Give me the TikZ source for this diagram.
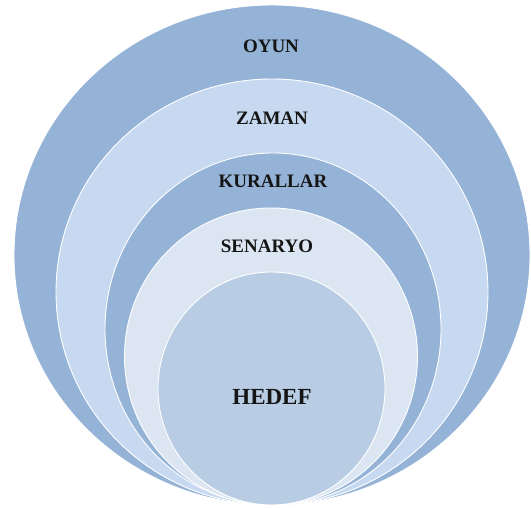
\documentclass[tikz,border=0pt]{standalone}
\usepackage{fontspec}
\setmainfont{Liberation Serif}
\usetikzlibrary{shapes.geometric}
\definecolor{darkband}{HTML}{95B3D7}
\definecolor{lightband}{HTML}{C6D9F0}
\definecolor{palest}{HTML}{DCE6F2}
\definecolor{core}{HTML}{B8CCE4}
\definecolor{ink}{HTML}{151515}
\tikzset{
  ring/.style={ellipse, draw=white, line width=0.9pt, inner sep=0pt, outer sep=0pt},
  lbl/.style={font=\bfseries\fontsize{19}{21}\selectfont, text=ink, inner sep=0pt}
}
\begin{document}
\begin{tikzpicture}[x=1pt,y=1pt]
\useasboundingbox (0,0) rectangle (531,508);
\node[ring, fill=darkband, minimum width=516pt, minimum height=500pt] (oyun) at (272,253) {};
\node[ring, fill=lightband, minimum width=432pt, minimum height=426pt] (zaman) at (272,216) {};
\node[ring, fill=darkband, minimum width=336pt, minimum height=352pt] (kurallar) at (273,179) {};
\node[ring, fill=palest, minimum width=293pt, minimum height=297pt] (senaryo) at (271,151.5) {};
\node[ring, fill=core, minimum width=227pt, minimum height=233pt] (hedef) at (271.5,119.5) {};
\node[lbl] (t1) at (271,462) {OYUN};
\node[lbl] (t2) at (272,390) {ZAMAN};
\node[lbl] (t3) at (273,327) {KURALLAR};
\node[lbl] (t4) at (267,262) {SENARYO};
\node[lbl, font=\bfseries\fontsize{23}{25}\selectfont] (t5) at (272,111) {HEDEF};
\end{tikzpicture}
\end{document}
